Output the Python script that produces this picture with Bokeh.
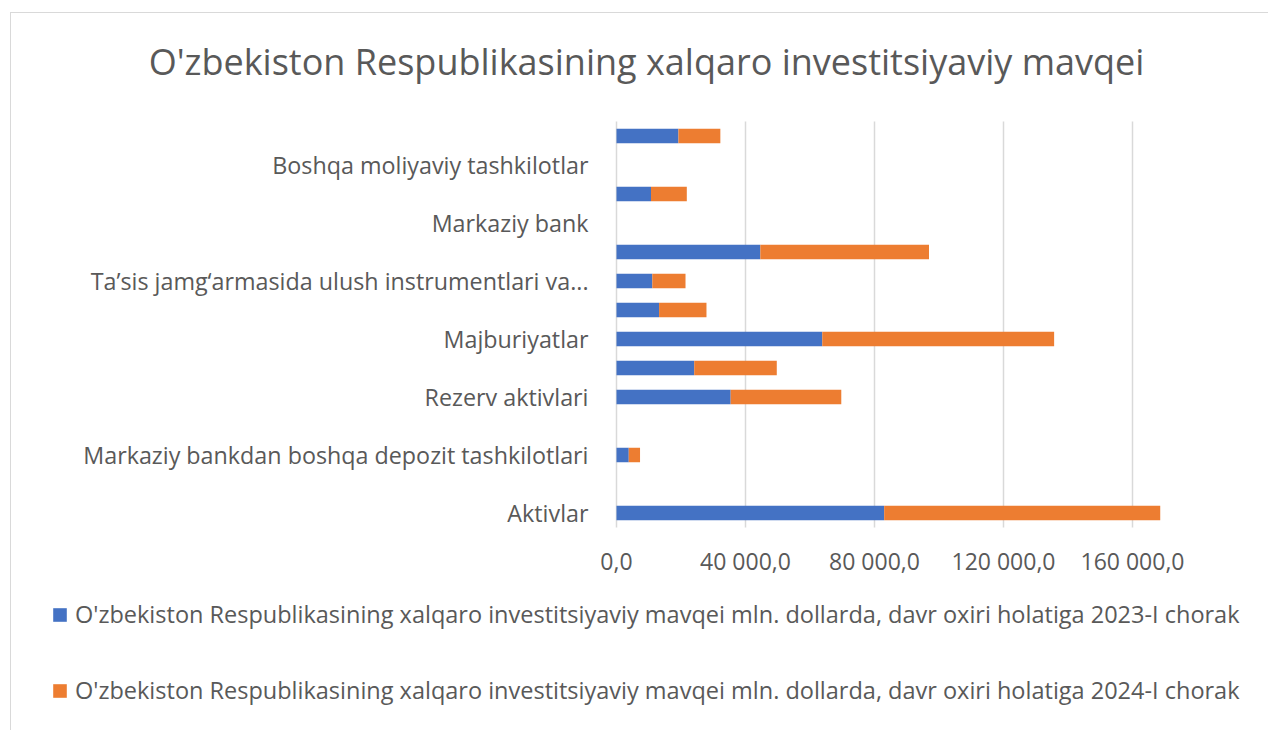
from bokeh.plotting import figure
from bokeh.models import ColumnDataSource, Range1d, FixedTicker, Legend, LegendItem, Label
from bokeh.embed import file_html
from bokeh.resources import INLINE

# ---- data (bottom to top); rows without a visible label in the reference are "" ----
categories = [
    "Aktivlar",
    "",
    "Markaziy bankdan boshqa depozit tashkilotlari",
    "",
    "Rezerv aktivlari",
    "",
    "Majburiyatlar",
    "",
    "Ta’sis jamg‘armasida ulush instrumentlari va...",
    "",
    "Markaziy bank",
    "",
    "Boshqa moliyaviy tashkilotlar",
    "",
]
values_2023 = [83000, 0, 3800, 0, 35400, 24100, 63800, 13200, 11100, 44600, 0, 10700, 0, 19200]
values_2024 = [85600, 0, 3500, 0, 34300, 25600, 71900, 14700, 10300, 52300, 0, 11100, 0, 13000]
series_names = [
    "O'zbekiston Respublikasining xalqaro investitsiyaviy mavqei mln. dollarda, davr oxiri holatiga 2023-I chorak",
    "O'zbekiston Respublikasining xalqaro investitsiyaviy mavqei mln. dollarda, davr oxiri holatiga 2024-I chorak",
]
x_ticks = [0, 40000, 80000, 120000, 160000]
x_tick_labels = ["0,0", "40 000,0", "80 000,0", "120 000,0", "160 000,0"]
title_text = "O'zbekiston Respublikasining xalqaro investitsiyaviy mavqei"

colors = ["#4472C4", "#ED7D31"]
text_color = "#595959"
grid_color = "#d9d9d9"
font = "Open Sans"

n = len(categories)
row_pos = list(range(n))
src = ColumnDataSource(dict(pos=row_pos, s2023=values_2023, s2024=values_2024))

# layout: the frame fills the whole figure; the value axis (0 .. 160 000) occupies
# the right part, the title, category labels and legend sit in the free space
W, H = 1258, 718
BAR_TOP = 108          # px from the top of the figure to the top of the bar area
zero_px, px_per_40k = 605, 129.0
row_px = 29.0
x_start = -zero_px * 40000 / px_per_40k
x_end = (W - zero_px) * 40000 / px_per_40k
y_end = (n - 0.5) + BAR_TOP / row_px
y_start = y_end - H / row_px

p = figure(
    width=W, height=H,
    y_range=Range1d(y_start, y_end),
    x_range=Range1d(x_start, x_end),
    output_backend="svg", toolbar_location=None,
    min_border_left=0, min_border_right=0, min_border_top=0, min_border_bottom=0,
)
p.styles = {"margin-left": "10px", "margin-top": "12px",
            "border-left": "1px solid #d9d9d9", "border-top": "1px solid #d9d9d9"}

p.outline_line_color = None
p.background_fill_color = "white"
p.border_fill_color = "white"
p.xgrid.visible = False
p.ygrid.visible = False

# chart title
p.add_layout(Label(
    x=635, y=H - 47.5, x_units="screen", y_units="screen",
    text=title_text, text_align="center", text_baseline="middle",
    text_font=font, text_font_size="36px", text_color=text_color,
))

# vertical gridlines limited to the bar area
p.segment(x0=x_ticks, x1=x_ticks, y0=[-0.5] * len(x_ticks), y1=[n - 0.5] * len(x_ticks),
          line_color=grid_color, line_width=1.5)

renderers = p.hbar_stack(["s2023", "s2024"], y="pos", height=0.5, color=colors,
                         line_color=None, source=src)

# x axis drawn at the bottom of the bar area
p.xaxis.fixed_location = -0.5
p.xaxis.ticker = FixedTicker(ticks=x_ticks)
p.xaxis.major_label_overrides = {t: l for t, l in zip(x_ticks, x_tick_labels)}
p.xaxis.axis_line_color = None
p.xaxis.major_tick_line_color = None
p.xaxis.minor_tick_line_color = None
p.xaxis.major_tick_out = 0
p.xaxis.major_tick_in = 0
p.xaxis.major_label_text_font = font
p.xaxis.major_label_text_font_size = "23px"
p.xaxis.major_label_text_color = text_color
p.xaxis.major_label_standoff = 17

# y axis drawn at x = 0, only the named rows labelled
labelled = [i for i, c in enumerate(categories) if c]
p.yaxis.fixed_location = 0
p.yaxis.ticker = FixedTicker(ticks=labelled)
p.yaxis.major_label_overrides = {i: categories[i] for i in labelled}
p.yaxis.axis_line_color = None
p.yaxis.major_tick_line_color = None
p.yaxis.minor_tick_line_color = None
p.yaxis.major_tick_out = 0
p.yaxis.major_tick_in = 0
p.yaxis.major_label_text_font = font
p.yaxis.major_label_text_font_size = "23.3px"
p.yaxis.major_label_text_color = text_color
p.yaxis.major_label_standoff = 28

legend = Legend(
    items=[LegendItem(label=series_names[i], renderers=[renderers[i]]) for i in range(2)],
    location=(40, 25),
    orientation="vertical",
    glyph_width=17, glyph_height=17,
    label_standoff=7,
    label_text_font=font, label_text_font_size="23.5px", label_text_color=text_color,
    label_height=25,
    spacing=44,
    padding=10,
    background_fill_alpha=0, border_line_color=None,
)
p.add_layout(legend, "center")

open("out.html", "w").write(file_html(p, INLINE))
